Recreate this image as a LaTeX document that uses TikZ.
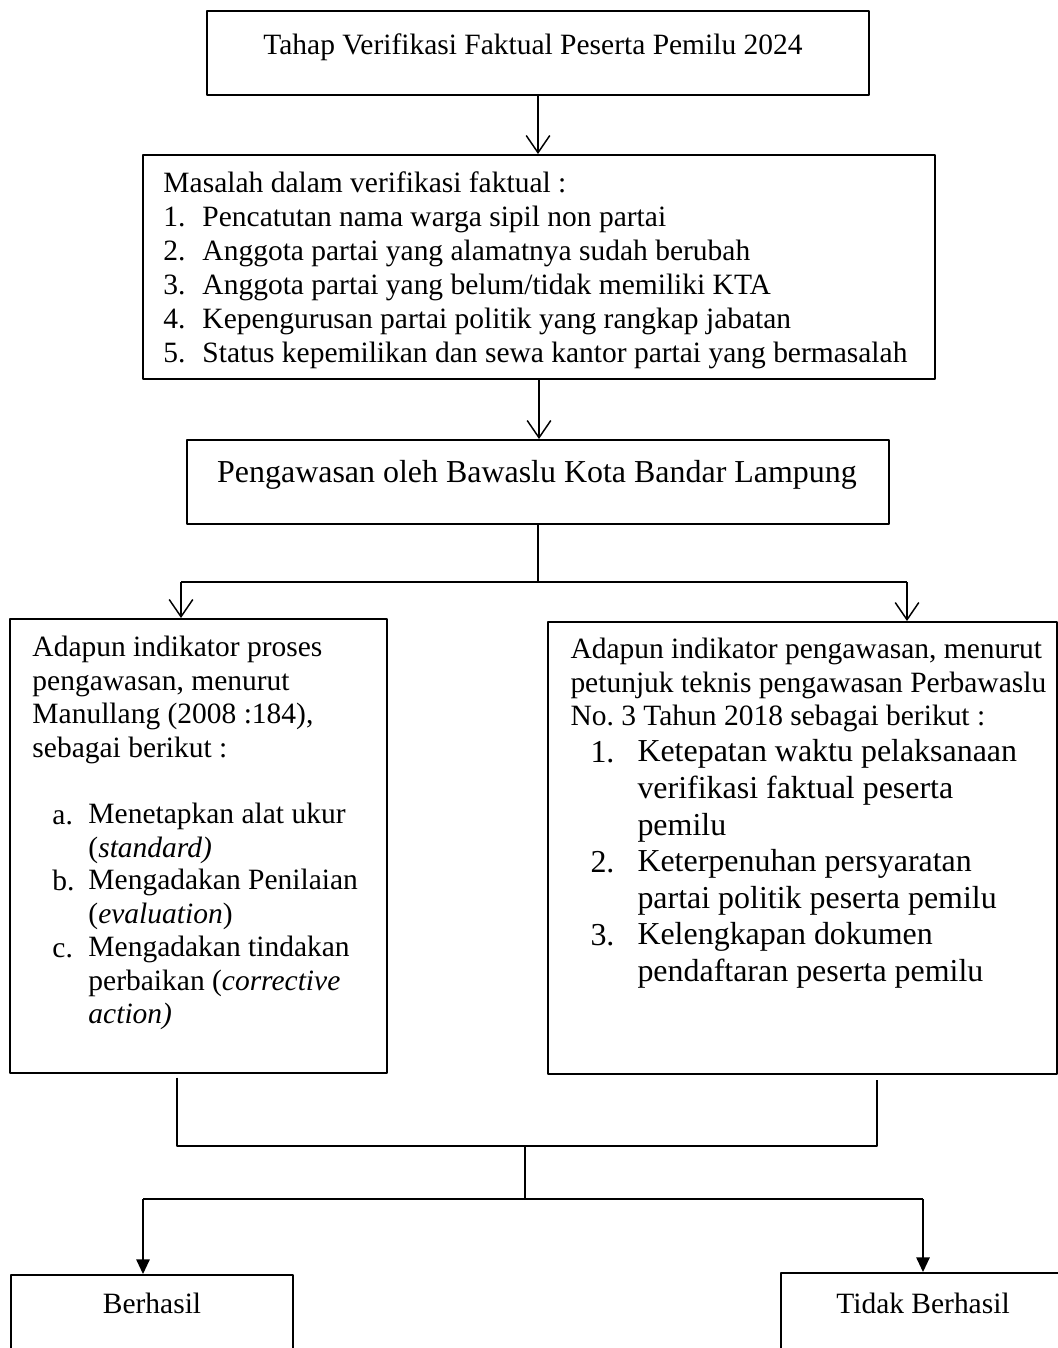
\documentclass[tikz,border=0pt]{standalone}
\usepackage{fontspec}
\setmainfont{Liberation Serif}
\usetikzlibrary{arrows.meta,fit}
\frenchspacing
\tikzset{
  box/.style={draw, line width=0.8pt, inner sep=0pt},
  txt/.style={inner sep=0pt, anchor=base west, align=left, font=\fontsize{12}{13.6}\selectfont},
  bigtxt/.style={txt, font=\fontsize{13}{14.95}\selectfont},
  link/.style={line width=0.6pt},
  openarr/.style={link, -{Straight Barb[length=7pt,width=9.6pt]}},
  fillarr/.style={link, -{Triangle[length=6pt,width=5.5pt]}}
}
\begin{document}
\begin{tikzpicture}[x=0.407pt, y=-0.407pt, line join=round]
	\useasboundingbox (0,0) rectangle (1058,1348);
	% kotak
	\node[box, fit={(207,11) (869,95)}] (top) {};
	\node[box, fit={(143,155) (935,379)}] (mid) {};
	\node[box, fit={(187,440) (889,524)}] (peng) {};
	\node[box, fit={(10,619) (387,1073)}] (lbox) {};
	\node[box, fit={(548,622) (1057,1074)}] (rbox) {};
	\node[box, fit={(11,1275) (293,1360)}] (ok) {};
	\node[box, fit={(781,1273) (1065,1360)}] (fail) {};
	% teks (titik acuan = garis dasar baris terakhir)
	\node[txt, anchor=base] (toptext) at (533,55) {Tahap Verifikasi Faktual Peserta Pemilu 2024};
	\node[txt] (midhead) at (163,193) {Masalah dalam verifikasi faktual :};
	\foreach \i/\t in {1/{Pencatutan nama warga sipil non partai},
		2/{Anggota partai yang alamatnya sudah berubah},
		3/{Anggota partai yang belum/tidak memiliki KTA},
		4/{Kepengurusan partai politik yang rangkap jabatan},
		5/{Status kepemilikan dan sewa kantor partai yang bermasalah}}
	{
		\node[txt] (mn\i) at (163,193+34*\i) {\i.};
		\node[txt] (m\i) at (202,193+34*\i) {\t};
	}
	\node[bigtxt, anchor=base] (pengtext) at (537,482) {Pengawasan oleh Bawaslu Kota Bandar Lampung};
	\node[txt] (lhead) at (32,657+3*33.4) {Adapun indikator proses\\pengawasan, menurut\\Manullang (2008 :184),\\sebagai berikut :};
	\foreach \l/\y/\n/\t in {a/824/1/{Menetapkan alat ukur\\(\textit{standard)}},
		b/890/1/{Mengadakan Penilaian\\(\textit{evaluation})},
		c/957/2/{Mengadakan tindakan\\perbaikan (\textit{corrective}\\\textit{action)}}}
	{
		\node[txt] (ln\l) at (52,\y) {\l.};
		\node[txt] (l\l) at (88,\y+33.4*\n) {\t};
	}
	\node[txt] (rhead) at (570,659+2*33.4) {Adapun indikator pengawasan, menurut\\petunjuk teknis pengawasan Perbawaslu\\No. 3 Tahun 2018 sebagai berikut :};
	\foreach \i/\y/\n/\t in {1/762/2/{Ketepatan waktu pelaksanaan\\verifikasi faktual peserta\\pemilu},
		2/872/1/{Keterpenuhan persyaratan\\partai politik peserta pemilu},
		3/945/1/{Kelengkapan dokumen\\pendaftaran peserta pemilu}}
	{
		\node[bigtxt] (rn\i) at (590,\y) {\i.};
		\node[bigtxt] (r\i) at (637,\y+36.7*\n) {\t};
	}
	\node[txt, anchor=base] (oktext) at (152,1313) {Berhasil};
	\node[txt, anchor=base] (failtext) at (923,1313) {Tidak Berhasil};
	% titik cabang
	\coordinate (jA) at (538,582);
	\coordinate (jAl) at (181,582);
	\coordinate (jAr) at (907,582);
	\coordinate (jBl) at (177,1146);
	\coordinate (jBr) at (877,1146);
	\coordinate (jB) at (525,1146);
	\coordinate (jC) at (525,1199);
	\coordinate (jCl) at (143,1199);
	\coordinate (jCr) at (923,1199);
	% garis
	\draw[openarr] (top.south) -- (top.south |- mid.north);
	\draw[openarr] (mid.south) -- (mid.south |- peng.north);
	\draw[link] (peng.south) -- (jA);
	\draw[link] (jAl) -- (jAr);
	\draw[openarr] (jAl) -- (jAl |- lbox.north);
	\draw[openarr] (jAr) -- (jAr |- rbox.north);
	\draw[link] ([yshift=-1.5pt]jBl |- lbox.south) -- (jBl) -- (jBr) -- ([yshift=-2pt]jBr |- rbox.south);
	\draw[link] (jB) -- (jC);
	\draw[link] (jCl) -- (jCr);
	\draw[fillarr] (jCl) -- (jCl |- ok.north);
	\draw[fillarr] (jCr) -- (jCr |- fail.north);
\end{tikzpicture}
\end{document}
